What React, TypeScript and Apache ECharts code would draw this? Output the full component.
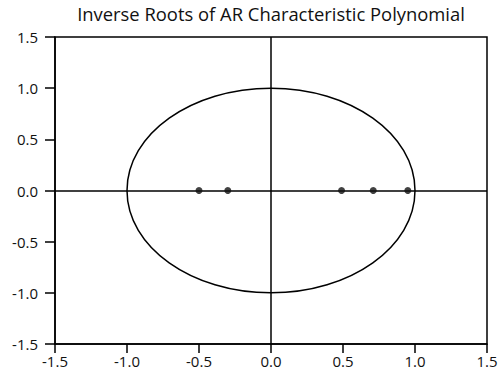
import React, { useEffect, useRef } from "react";
import * as echarts from "echarts";

const TITLE = "Inverse Roots of AR Characteristic Polynomial";
const rootRe: number[] = [-0.5, -0.3, 0.49, 0.71, 0.95];
const rootIm: number[] = [0, 0, 0, 0, 0];
const unitCircle: number[][] = [[0, 0, 1]]; // center x, center y, radius
const axisMin = -1.5;
const axisMax = 1.5;
const axisStep = 0.5;

export default function App() {
  const ref = useRef<HTMLDivElement>(null);
  useEffect(() => {
    if (!ref.current) return;
    const chart = echarts.init(ref.current, null, { renderer: "svg" });
    const font = "Open Sans";
    const axisCommon = {
      type: "value",
      min: axisMin,
      max: axisMax,
      interval: axisStep,
      axisLine: { show: true, onZero: false, lineStyle: { color: "#000", width: 1.5 } },
      axisTick: { show: true, inside: false, length: 10, lineStyle: { color: "#000", width: 1.5 } },
      splitLine: { show: false },
      axisLabel: {
        color: "#111",
        fontFamily: font,
        fontSize: 15,
        formatter: (v: number) => v.toFixed(1),
      },
    };
    chart.setOption({
      animation: false,
      backgroundColor: "#fff",
      title: {
        text: TITLE,
        left: 266,
        textAlign: "center",
        top: -1,
        textStyle: { fontFamily: font, fontSize: 18.4, fontWeight: "normal", color: "#111" },
      },
      grid: {
        left: 55,
        right: 16,
        top: 37,
        bottom: 36,
        show: true,
        borderColor: "#000",
        borderWidth: 1.5,
        backgroundColor: "transparent",
      },
      xAxis: { ...axisCommon, axisTick: { ...axisCommon.axisTick, length: 9 }, axisLabel: { ...axisCommon.axisLabel, margin: 9 } },
      yAxis: { ...axisCommon, axisLabel: { ...axisCommon.axisLabel, margin: 17 } },
      series: [
        {
          type: "custom",
          data: unitCircle,
          silent: true,
          renderItem: (params: any, api: any) => {
            const c = api.coord([api.value(0), api.value(1)]);
            const s = api.size([api.value(2), api.value(2)]);
            return {
              type: "ellipse",
              shape: { cx: c[0], cy: c[1], rx: s[0], ry: s[1] },
              style: { fill: "none", stroke: "#000", lineWidth: 1.5 },
            };
          },
          z: 2,
        },
        {
          type: "scatter",
          data: rootRe.map((x, i) => [x, rootIm[i]]),
          symbol: "circle",
          symbolSize: 7,
          itemStyle: { color: "#111" },
          z: 5,
          markLine: {
            silent: true,
            symbol: ["none", "none"],
            label: { show: false },
            lineStyle: { color: "#000", width: 1.5, type: "solid" },
            data: [{ xAxis: 0 }, { yAxis: 0 }],
          },
        },
      ],
    });
    return () => chart.dispose();
  }, []);
  return (
    <div
      ref={ref}
      style={{ position: "fixed", left: 0, top: 0, width: 503, height: 380 }}
    />
  );
}
